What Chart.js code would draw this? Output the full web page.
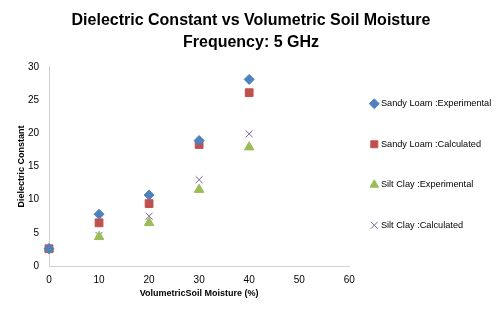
<!DOCTYPE html>
<html>
<head>
<meta charset="utf-8">
<script src="https://cdn.jsdelivr.net/npm/chart.js@4/dist/chart.umd.min.js"></script>
<style>
  html, body { margin: 0; padding: 0; background: #fff; }
  #wrap { width: 500px; height: 314px; position: relative; }
</style>
</head>
<body>
<div id="wrap"><canvas id="c"></canvas></div>
<script>
// moisture (%) on x, dielectric constant on y
const moisture = [0, 10, 20, 30, 40];
const sandyExp = [2.6, 7.8, 10.7, 18.9, 28.1];
const sandyCalc = [2.6, 6.5, 9.4, 18.3, 26.1];
const siltExp = [2.6, 4.4, 6.5, 11.5, 17.9];
const siltCalc = [2.6, 4.6, 7.5, 13.0, 19.9];
const seriesNames = ['Sandy Loam :Experimental', 'Sandy Loam :Calculated', 'Silt Clay :Experimental', 'Silt Clay :Calculated'];

const pts = (ys) => moisture.map((x, i) => ({ x, y: ys[i] }));
const font = 'Arial, "Liberation Sans", sans-serif';

function ds(label, ys, color, style, r){
  return {
    label,
    data: pts(ys),
    pointStyle: style,
    pointRadius: r,
    pointHoverRadius: r,
    backgroundColor: color,
    borderColor: color,
    borderWidth: 1,
    showLine: false,
    clip: false
  };
}

// side boxes are capped at a quarter of the width, so place legend + title by hand
const boxFix = {
  id: 'boxFix',
  afterLayout(chart){
    const lg = chart.legend;
    if (lg) {
      lg.left = 341; lg.right = 500; lg.width = 159;
      lg.top += 15; lg.bottom += 15;
    }
    const t = chart.titleBlock;
    if (t) { t.left = 0; t.right = 502; t.width = 502; }
  }
};

new Chart(document.getElementById('c'), {
  type: 'scatter',
  data: {
    datasets: [
      ds(seriesNames[0], sandyExp, '#4f81bd', 'rectRot', 5),
      ds(seriesNames[1], sandyCalc, '#c0504d', 'rect', 5.5),
      ds(seriesNames[2], siltExp, '#9bbb59', 'triangle', 5.5),
      ds(seriesNames[3], siltCalc, '#8064a2', 'crossRot', 5)
    ]
  },
  plugins: [boxFix],
  options: {
    responsive: true,
    maintainAspectRatio: false,
    animation: false,
    layout: { padding: { left: 14, right: 39, top: 0, bottom: 15 } },
    plugins: {
      title: {
        display: true,
        text: ['Dielectric Constant vs Volumetric Soil Moisture', 'Frequency: 5 GHz'],
        color: '#000',
        font: { family: font, size: 16, weight: 'bold', lineHeight: 1.4 },
        padding: { top: 9, bottom: 13 }
      },
      legend: {
        position: 'right',
        align: 'center',
        labels: {
          usePointStyle: true,
          boxWidth: 4,
          boxHeight: 7,
          padding: 31.3,
          color: '#000',
          font: { family: font, size: 9.2 }
        }
      },
      tooltip: { enabled: false }
    },
    scales: {
      x: {
        type: 'linear',
        min: 0, max: 60,
        afterFit: (s) => { s.height = 33; },
        ticks: { stepSize: 10, color: '#000', font: { family: font, size: 10 }, padding: 8 },
        grid: { display: false, drawTicks: false },
        border: { color: '#d0d0d0', width: 1 },
        title: { display: true, text: 'VolumetricSoil Moisture (%)', color: '#000', font: { family: font, size: 9, weight: 'bold' }, padding: { top: 0, bottom: 0 } }
      },
      y: {
        min: 0, max: 30,
        afterFit: (s) => { s.width = 35; },
        ticks: { stepSize: 5, color: '#000', font: { family: font, size: 10 }, padding: 10 },
        grid: { display: false, drawTicks: false },
        border: { color: '#d0d0d0', width: 1 },
        title: { display: true, text: 'Dielectric Constant', color: '#000', font: { family: font, size: 9, weight: 'bold' }, padding: { top: 2, bottom: 0 } }
      }
    }
  }
});
</script>
</body>
</html>
